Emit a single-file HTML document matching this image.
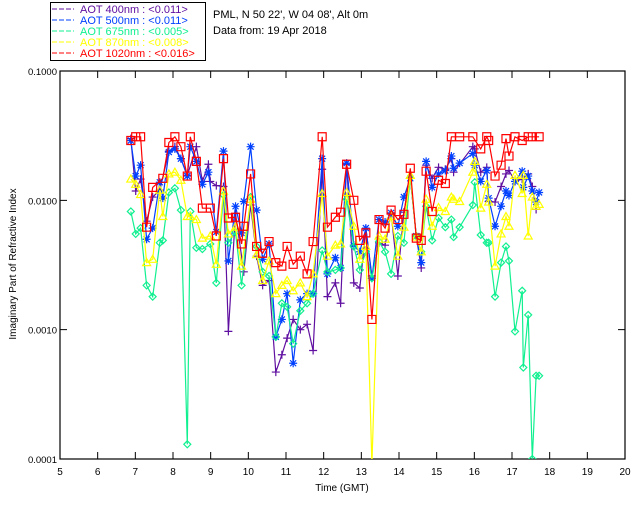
<!DOCTYPE html>
<html><head><meta charset="utf-8"><style>
body{margin:0;background:#fff;width:640px;height:512px;overflow:hidden}
svg{display:block;font-family:"Liberation Sans",sans-serif}
</style></head><body>
<svg id="chart" width="640" height="512" viewBox="0 0 640 512" xmlns="http://www.w3.org/2000/svg">
<rect x="50.5" y="2.5" width="155" height="58" fill="#fff" stroke="#000"/>
<g font-size="11" style="white-space:pre" xml:space="preserve">
<g fill="#6010a0"><line x1="52" y1="9" x2="74" y2="9" stroke="#6010a0" stroke-dasharray="5,2"/><text x="80" y="13">AOT  400nm : &lt;0.011&gt;</text></g>
<g fill="#0040ff"><line x1="52" y1="20" x2="74" y2="20" stroke="#0040ff" stroke-dasharray="5,2"/><text x="80" y="24">AOT  500nm : &lt;0.011&gt;</text></g>
<g fill="#10f090"><line x1="52" y1="31" x2="74" y2="31" stroke="#10f090" stroke-dasharray="5,2"/><text x="80" y="35">AOT  675nm : &lt;0.005&gt;</text></g>
<g fill="#ffff00"><line x1="52" y1="42" x2="74" y2="42" stroke="#ffff00" stroke-dasharray="5,2"/><text x="80" y="46">AOT  870nm : &lt;0.008&gt;</text></g>
<g fill="#ff0000"><line x1="52" y1="53" x2="74" y2="53" stroke="#ff0000" stroke-dasharray="5,2"/><text x="80" y="57">AOT 1020nm : &lt;0.016&gt;</text></g>
</g>
<text x="213" y="18" font-size="11">PML, N 50 22', W 04 08', Alt 0m</text>
<text x="213" y="34" font-size="11">Data from: 19 Apr 2018</text>
<text transform="translate(16,264) rotate(-90)" text-anchor="middle" font-size="10">Imaginary Part of Refractive Index</text>
<text x="342" y="491" text-anchor="middle" font-size="10">Time (GMT)</text>
<g id="axes"></g>
<g id="series"></g>
</svg>
<script>
const times=[6.88,7.01,7.14,7.30,7.46,7.65,7.73,7.89,8.05,8.21,8.38,8.46,8.62,8.78,8.94,8.99,9.15,9.34,9.47,9.66,9.82,9.88,10.06,10.22,10.38,10.55,10.73,10.89,11.03,11.19,11.38,11.56,11.72,11.96,12.10,12.31,12.45,12.61,12.80,12.96,13.12,13.28,13.47,13.63,13.79,13.97,14.13,14.30,14.46,14.59,14.72,14.88,15.05,15.23,15.39,15.45,15.61,15.96,16.01,16.17,16.33,16.38,16.55,16.71,16.84,16.92,17.08,17.27,17.30,17.43,17.54,17.64,17.72];
const aot400=[0.030,0.0118,0.0146,0.0069,0.0106,0.012,null,0.024,0.026,0.021,0.0156,null,0.026,0.014,0.019,0.014,0.013,0.0128,0.00097,0.0079,null,0.0028,0.0092,0.0037,0.0022,0.0024,0.00047,0.00064,0.00086,0.0012,0.0010,0.0011,0.00069,0.0174,0.0018,0.0023,0.0016,0.019,0.0023,0.0021,0.0060,0.0026,0.0047,0.0045,0.0079,0.0026,0.0081,0.015,0.0053,0.0030,0.0187,0.0148,0.018,0.0174,0.021,0.0165,null,0.026,0.025,0.0165,0.018,0.0098,0.0097,0.0128,0.016,0.017,0.014,0.0146,null,0.016,0.0128,0.0085,null];
const aot500=[0.029,0.0154,0.0187,0.0050,0.0061,0.0138,0.0104,0.0236,0.025,0.021,0.0154,0.026,0.020,0.0133,0.0165,null,0.0057,0.024,0.0034,0.0090,0.0056,0.0098,0.026,0.0084,0.0035,0.0046,0.00088,0.0012,0.0019,0.00055,0.0017,0.0019,0.0019,0.021,0.0027,0.0036,0.0030,0.0194,0.0045,0.0040,0.0061,0.0025,0.0071,0.0068,0.0080,0.0063,0.0106,0.0148,0.0053,0.0033,0.020,0.0126,0.016,0.017,0.022,0.0177,0.0194,0.023,0.0187,0.014,0.017,0.0104,0.0063,0.0090,0.0118,0.0109,0.014,0.0168,0.0126,0.0154,0.0118,0.0097,0.0115];
const aot675=[0.0082,0.0055,0.0061,0.0022,0.0018,0.0047,0.0049,0.0115,0.0124,0.0084,0.00013,0.0082,0.0043,0.0042,null,0.0046,0.0023,0.011,0.0047,0.0057,0.0022,null,0.0106,0.0044,0.0028,0.0026,0.00088,0.0016,0.0015,0.00078,0.0014,0.0016,0.0019,0.0041,0.0028,0.0029,0.0030,0.0102,0.0044,0.0029,0.0040,0.0025,0.0048,0.0040,0.0027,0.0053,0.0047,0.015,0.0053,0.0040,0.0090,0.0049,0.0073,0.0062,0.0071,0.0052,0.0062,0.0092,0.0138,0.0054,0.0047,0.0047,0.0018,0.0033,0.0044,0.0034,0.00097,0.0020,0.00051,0.0013,0.0001,0.00044,0.00044];
const aot870=[0.0146,0.0133,0.0111,0.0033,0.0035,0.012,0.0075,0.016,0.0165,0.0143,0.0075,0.0075,0.0071,0.0051,null,0.0053,0.0032,0.0118,0.0055,0.0062,0.0031,null,0.0102,0.0038,0.0024,0.0034,0.0019,0.0022,0.0024,0.0020,0.0023,0.0018,0.0027,0.0113,0.0037,0.0045,0.0046,0.0115,0.0063,0.0035,0.0044,0.00009,0.0053,0.0050,0.0075,0.0037,0.0062,0.0156,0.0052,0.0040,0.0102,0.0063,0.0088,0.0082,0.0106,0.0102,0.0098,0.0165,0.020,0.0087,0.0133,0.0097,0.0031,0.0055,0.0075,0.0063,0.0156,0.0113,0.0156,0.0053,0.0106,0.0090,0.0093];
const aot1020=[0.029,0.031,0.031,0.0062,0.0126,null,0.0148,0.028,0.031,0.026,0.0154,0.031,0.020,0.0087,null,0.0087,0.0053,0.021,0.0073,0.0074,0.0046,0.0063,0.016,0.0044,0.0039,0.0048,0.0033,0.0031,0.0044,0.0032,0.0037,0.0027,0.0048,0.031,0.0062,0.0074,0.0081,0.019,0.010,0.0049,0.0056,0.0012,0.0071,0.0061,0.0084,0.0071,0.0078,0.0177,0.0051,0.0049,0.0168,0.0082,0.0143,0.0135,0.031,null,0.031,0.031,null,0.025,0.031,0.029,0.0154,0.0187,0.030,0.022,0.031,0.029,null,0.031,0.031,null,0.031];
const xTicks=[5,6,7,8,9,10,11,12,13,14,15,16,17,18,19,20];
const yTicks=[0.1,0.01,0.001,0.0001];
const yTickLabels=["0.1000","0.0100","0.0010","0.0001"];

const NS="http://www.w3.org/2000/svg";
const L=60,R=625,T=71,B=459;
function xs(t){return L+(t-5)/15*(R-L);}
function ys(v){return T+(Math.log10(0.1)-Math.log10(v))/3*(B-T);}
function mk(tag,at,parent){const e=document.createElementNS(NS,tag);for(const k in at)e.setAttribute(k,at[k]);parent.appendChild(e);return e;}
const axes=document.getElementById('axes');
const frame=mk('rect',{x:L,y:T,width:R-L,height:B-T,fill:'none',stroke:'#000','stroke-width':1.2},axes);


xTicks.forEach(t=>{
  const x=xs(t);
  const tk=mk('path',{d:`M${x},${B}V${B-7}M${x},${T}V${T+7}`,stroke:'#000'},axes);
  
  
  const lb=mk('text',{x:x,y:B+16,'text-anchor':'middle','font-size':10},axes);
  lb.textContent=t;
  
  
});
yTicks.forEach((v,i)=>{
  const y=ys(v);
  const tk=mk('path',{d:`M${L},${y}H${L+7}M${R},${y}H${R-7}`,stroke:'#000'},axes);
  
  
  const lb=mk('text',{x:L-3,y:y+4,'text-anchor':'end','font-size':9.5},axes);
  lb.textContent=yTickLabels[i];
  
  
});
const ser=document.getElementById('series');
const cp=mk('clipPath',{id:'clip'},ser);mk('rect',{x:L,y:T-8,width:R-L,height:B-T+8},cp);
const defs=[[aot400,'#6010a0','plus','series-400nm'],[aot500,'#0040ff','star','series-500nm'],[aot675,'#10f090','diamond','series-675nm'],[aot870,'#ffff00','tri','series-870nm'],[aot1020,'#ff0000','square','series-1020nm']];
function marker(kind,x,y){
  if(kind==='plus')return `M${x-4},${y}H${x+4}M${x},${y-4}V${y+4}`;
  if(kind==='star')return `M${x-4},${y}H${x+4}M${x},${y-4}V${y+4}M${x-3},${y-3}L${x+3},${y+3}M${x-3},${y+3}L${x+3},${y-3}`;
  if(kind==='diamond')return `M${x},${y-3.5}L${x+3.5},${y}L${x},${y+3.5}L${x-3.5},${y}Z`;
  if(kind==='tri')return `M${x},${y-4}L${x+4},${y+3}L${x-4},${y+3}Z`;
  return `M${x-4},${y-4}H${x+4}V${y+4}H${x-4}Z`;
}
defs.forEach(([vals,col,kind,name])=>{
  const g=mk('g',{'clip-path':'url(#clip)'},ser);
  
  
  let d='';let pen=false;
  vals.forEach((v,i)=>{if(v==null)return;d+=(pen?'L':'M')+xs(times[i]).toFixed(1)+','+ys(v).toFixed(1);pen=true;});
  const ln=mk('path',{d:d,fill:'none',stroke:col,'stroke-width':1.2},g);
  
  
  let md='';
  vals.forEach((v,i)=>{if(v==null)return;md+=marker(kind,xs(times[i]),ys(v));});
  const mp=mk('path',{d:md,fill:'none',stroke:col,'stroke-width':1.2},g);
  
  
});
</script>
</body></html>
